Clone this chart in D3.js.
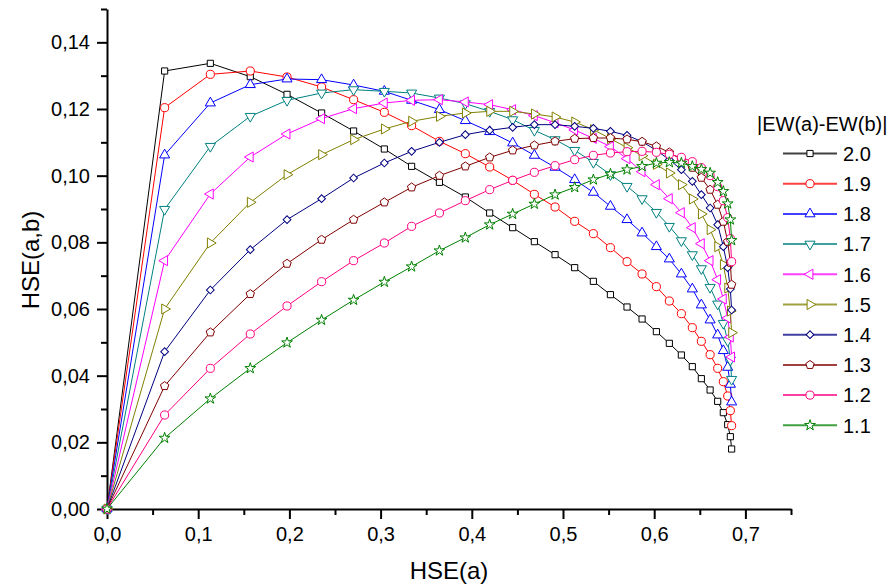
<!DOCTYPE html>
<html>
<head>
<meta charset="utf-8">
<script src="https://cdn.jsdelivr.net/npm/d3@7/dist/d3.min.js"></script>
<style>
body { margin: 0; background: #fff; }
#chart text { font-family: Arial, "Liberation Sans", sans-serif; fill: #000; }
</style>
</head>
<body>
<svg id="chart" width="891" height="588"></svg>
<script>
// x values shared by every curve
const hseA = [0, 0.0632, 0.1133, 0.1571, 0.1974, 0.2353, 0.2704, 0.3041, 0.3340, 0.3645, 0.3929,
    0.4196, 0.4448, 0.4686, 0.4913, 0.5128, 0.5333, 0.5520, 0.5702, 0.5867, 0.6024,
    0.6166, 0.6298, 0.6418, 0.6517, 0.6613, 0.6696, 0.6758, 0.6806, 0.6835, 0.6849];

const ew20 = [0, .1314, .1337, .1297, .1244, .1188, .1134, .1080, .1028, .0980, .0936, .0888, .0844, .0802, .0763,
    .0724, .0683, .0643, .0606, .0570, .0532, .0497, .0462, .0427, .0391, .0357, .0323, .0289, .0253, .0217, .0180];
const ew19 = [0, .1204, .1304, .1314, .1296, .1266, .1228, .1190, .1150, .1103, .1066, .1026, .0986, .0944, .0906,
    .0863, .0826, .0784, .0742, .0705, .0667, .0624, .0586, .0544, .0503, .0463, .0422, .0382, .0339, .0295, .0250];
const ew18 = [0, .1062, .1218, .1273, .1290, .1288, .1272, .1253, .1226, .1198, .1165, .1132, .1098, .1061, .1025,
    .0988, .0950, .0908, .0868, .0828, .0787, .0750, .0705, .0660, .0612, .0567, .0522, .0475, .0425, .0374, .0321];
const ew17 = [0, .0899, .1088, .1178, .1226, .1248, .1258, .1253, .1248, .1233, .1216, .1193, .1168, .1136, .1108,
    .1076, .1040, .1003, .0968, .0931, .0890, .0848, .0805, .0763, .0721, .0665, .0615, .0557, .0505, .0447, .0389];
const ew16 = [0, .0745, .0945, .1056, .1125, .1171, .1201, .1218, .1226, .1228, .1221, .1213, .1198, .1180, .1159,
    .1137, .1112, .1087, .1051, .1012, .0973, .0931, .0889, .0844, .0796, .0745, .0688, .0630, .0573, .0516, .0456];
const ew15 = [0, .0600, .0798, .0920, .1003, .1063, .1108, .1140, .1163, .1178, .1188, .1193, .1193, .1185, .1176,
    .1161, .1138, .1111, .1084, .1060, .1034, .1008, .0973, .0930, .0885, .0838, .0787, .0733, .0663, .0594, .0529];
const ew14 = [0, .0472, .0657, .0778, .0868, .0931, .0993, .1038, .1073, .1100, .1123, .1136, .1145, .1153, .1153,
    .1148, .1142, .1133, .1121, .1102, .1076, .1048, .1018, .0983, .0943, .0903, .0853, .0787, .0724, .0660, .0597];
const ew13 = [0, .0369, .0530, .0645, .0736, .0808, .0868, .0920, .0965, .1000, .1028, .1055, .1076, .1091, .1103,
    .1111, .1113, .1113, .1109, .1102, .1088, .1070, .1048, .1024, .0994, .0958, .0913, .0862, .0802, .0739, .0673];
const ew12 = [0, .0282, .0422, .0525, .0609, .0682, .0745, .0798, .0848, .0888, .0925, .0958, .0986, .1010, .1030,
    .1048, .1061, .1068, .1072, .1073, .1070, .1064, .1055, .1042, .1024, .1000, .0967, .0925, .0874, .0811, .0742];
const ew11 = [0, .0213, .0331, .0422, .0499, .0567, .0627, .0681, .0727, .0775, .0814, .0853, .0885, .0915, .0943,
    .0965, .0988, .1005, .1018, .1028, .1038, .1040, .1038, .1028, .1019, .1008, .0980, .0953, .0916, .0868, .0806];

const seriesNames = ['2.0', '1.9', '1.8', '1.7', '1.6', '1.5', '1.4', '1.3', '1.2', '1.1'];
const seriesValues = [ew20, ew19, ew18, ew17, ew16, ew15, ew14, ew13, ew12, ew11];
const seriesColors = ['#000000', '#FF0000', '#0000FF', '#008080', '#FF00FF', '#808000', '#000080', '#800000', '#FF0080', '#008000'];
const seriesSymbols = ['square', 'circle', 'up', 'down', 'left', 'right', 'diamond', 'pentagon', 'circle', 'star'];

const xTicks = [0, 0.1, 0.2, 0.3, 0.4, 0.5, 0.6, 0.7];
const yTicks = [0, 0.02, 0.04, 0.06, 0.08, 0.10, 0.12, 0.14];

var buildChart = function () {
    const svg = d3.select('#chart');
    const left = 107, right = 791, top = 9, bottom = 509;

    const x = d3.scaleLinear().domain([0, 0.75]).range([left, right]);
    const y = d3.scaleLinear().domain([0, 0.15]).range([bottom, top]);
    const comma = (f) => (d) => d3.format(f)(d).replace('.', ',');

    // minor ticks
    svg.append('g')
        .attr('transform', `translate(0,${bottom})`)
        .call(d3.axisBottom(x).tickValues(d3.range(0.05, 0.76, 0.1)).tickSize(6).tickFormat(''))
        .call(g => g.select('.domain').remove());
    svg.append('g')
        .attr('transform', `translate(${left},0)`)
        .call(d3.axisLeft(y).tickValues(d3.range(0.01, 0.151, 0.02)).tickSize(6).tickFormat(''))
        .call(g => g.select('.domain').remove());

    svg.append('g')
        .attr('transform', `translate(0,${bottom})`)
        .call(d3.axisBottom(x).tickValues(xTicks).tickSize(10).tickSizeOuter(0).tickPadding(8).tickFormat(comma('.1f')));
    svg.append('g')
        .attr('transform', `translate(${left},0)`)
        .call(d3.axisLeft(y).tickValues(yTicks).tickSize(10).tickSizeOuter(0).tickPadding(7).tickFormat(comma('.2f')));

    svg.selectAll('.tick line').attr('stroke', '#000').attr('stroke-width', 2);
    svg.selectAll('.domain').attr('stroke', '#000').attr('stroke-width', 2);
    svg.selectAll('.tick text').style('font-size', '20px');

    svg.append('text')
        .attr('x', 449)
        .attr('y', 579)
        .attr('text-anchor', 'middle')
        .style('font-size', '24px')
        .text('HSE(a)');
    svg.append('text')
        .attr('transform', 'translate(39,260) rotate(-90)')
        .attr('text-anchor', 'middle')
        .style('font-size', '24px')
        .text('HSE(a,b)');

    const symbolPath = function (kind) {
        if (kind === 'square') return d3.symbol(d3.symbolSquare, 38)();
        if (kind === 'circle') return d3.symbol(d3.symbolCircle, 52)();
        if (kind === 'diamond') return d3.symbol(d3.symbolSquare, 30)();
        if (kind === 'star') return d3.symbol(d3.symbolStar, 36)();
        if (kind === 'pentagon') {
            const pts = d3.range(5).map(k => {
                const a = -Math.PI / 2 + k * 2 * Math.PI / 5;
                return [4.4 * Math.cos(a), 4.4 * Math.sin(a)];
            });
            return 'M' + pts.join('L') + 'Z';
        }
        return d3.symbol(d3.symbolTriangle, 44)();
    };
    const symbolRotate = { up: 0, down: 180, left: -90, right: 90, diamond: 45 };

    const line = d3.line()
        .x((d, i) => x(hseA[i]))
        .y(d => y(d));

    const plot = svg.append('g');
    seriesValues.forEach(function (vals, s) {
        const g = plot.append('g');
        g.append('path')
            .attr('d', line(vals))
            .attr('fill', 'none')
            .attr('stroke', seriesColors[s])
            .attr('stroke-width', 1);
        const rot = symbolRotate[seriesSymbols[s]] || 0;
        g.selectAll('path.mark')
            .data(vals)
            .enter()
            .append('path')
            .attr('class', 'mark')
            .attr('d', symbolPath(seriesSymbols[s]))
            .attr('transform', (d, i) => `translate(${x(hseA[i])},${y(d)}) rotate(${rot})`)
            .attr('fill', '#fff')
            .attr('stroke', seriesColors[s])
            .attr('stroke-width', 1);
    });

    // legend
    const legend = svg.append('g');
    legend.append('text')
        .attr('x', 757)
        .attr('y', 131)
        .style('font-size', '20px')
        .text('|EW(a)-EW(b)|');
    seriesNames.forEach(function (name, s) {
        const ly = 153.5 + s * 30.2;
        legend.append('line')
            .attr('x1', 783).attr('x2', 837)
            .attr('y1', ly).attr('y2', ly)
            .attr('stroke', seriesColors[s])
            .attr('stroke-opacity', 0.75)
            .attr('stroke-width', 2);
        const rot = symbolRotate[seriesSymbols[s]] || 0;
        legend.append('path')
            .attr('d', symbolPath(seriesSymbols[s]))
            .attr('transform', `translate(810,${ly}) rotate(${rot})`)
            .attr('fill', '#fff')
            .attr('stroke', seriesColors[s])
            .attr('stroke-width', 1);
        legend.append('text')
            .attr('x', 843)
            .attr('y', ly)
            .attr('dy', '0.36em')
            .style('font-size', '20px')
            .text(name);
    });
};

document.addEventListener('DOMContentLoaded', function () {
    buildChart();
});
</script>
</body>
</html>
